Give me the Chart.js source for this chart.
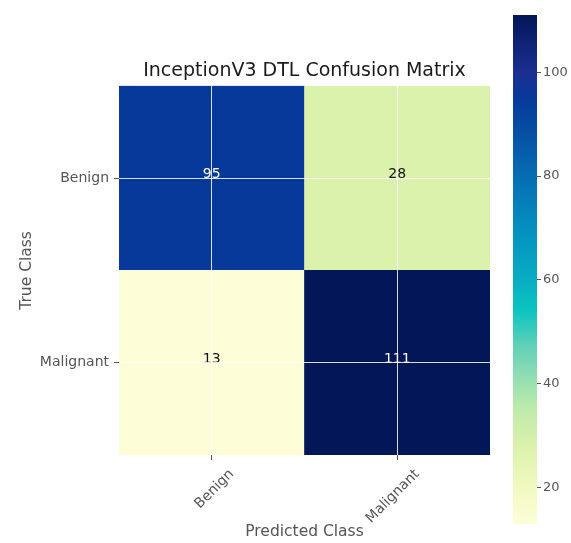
<!DOCTYPE html>
<html>
<head>
<meta charset="utf-8">
<title>InceptionV3 DTL Confusion Matrix</title>
<script src="https://cdn.jsdelivr.net/npm/chart.js@4.4.1/dist/chart.umd.min.js"></script>
<style>
  html, body { margin: 0; padding: 0; background: #ffffff; }
  #wrap { position: relative; width: 571px; height: 543px; overflow: hidden; background: #ffffff; }
  #matrix { position: absolute; left: 0; top: 0; }
  #colorbar { position: absolute; left: 490px; top: 0; }
</style>
</head>
<body>
<div id="wrap">
  <canvas id="matrix" width="500" height="543"></canvas>
  <canvas id="colorbar" width="81" height="543"></canvas>
</div>
<script>
// Class names (rows = true class, columns = predicted class)
const trueClasses = ['Benign', 'Malignant'];
const predClasses = ['Benign', 'Malignant'];

// Counts per true-class row
const benignRow = [95, 28];
const malignantRow = [13, 111];

// Colour bar tick values
const colorbarTicks = [20, 40, 60, 80, 100];

const rows = [benignRow, malignantRow];
const allValues = rows.flat();
const vMin = Math.min(...allValues);
const vMax = Math.max(...allValues);

const FONT = 'DejaVu Sans';
const GREY = '#555555';

// YlGnBu-style colour ramp, stops given in data units
const rampStops = [
  [13,  [253, 254, 216]],
  [20,  [241, 249, 192]],
  [28,  [218, 242, 171]],
  [35,  [192, 234, 172]],
  [40,  [155, 225, 176]],
  [47,  [100, 209, 183]],
  [54,  [12, 197, 191]],
  [60,  [8, 173, 195]],
  [70,  [5, 143, 191]],
  [80,  [6, 109, 179]],
  [90,  [6, 74, 161]],
  [95,  [6, 57, 154]],
  [100, [28, 47, 146]],
  [111, [3, 22, 88]]
];

function rampColor(v) {
  if (v <= rampStops[0][0]) return 'rgb(' + rampStops[0][1].join(',') + ')';
  for (let i = 1; i < rampStops.length; i++) {
    const [v1, c1] = rampStops[i];
    const [v0, c0] = rampStops[i - 1];
    if (v <= v1) {
      const t = (v - v0) / (v1 - v0);
      const c = c0.map((a, k) => Math.round(a + (c1[k] - a) * t));
      return 'rgb(' + c.join(',') + ')';
    }
  }
  return 'rgb(' + rampStops[rampStops.length - 1][1].join(',') + ')';
}

// Writes each cell's count in its centre, white on dark cells
const cellLabels = {
  id: 'cellLabels',
  afterDatasetsDraw(chart) {
    const ctx = chart.ctx;
    const thresh = (vMin + vMax) / 2;
    ctx.save();
    ctx.font = '14px "' + FONT + '"';
    ctx.textAlign = 'center';
    ctx.textBaseline = 'alphabetic';
    chart.data.datasets.forEach((ds, di) => {
      const meta = chart.getDatasetMeta(di);
      meta.data.forEach((el, j) => {
        const v = ds.counts[j];
        const cy = (el.y + el.base) / 2;
        ctx.fillStyle = v > thresh ? '#ffffff' : '#111111';
        ctx.fillText(String(v), el.x, cy);
      });
    });
    ctx.restore();
  }
};

// Stacked unit bars: bottom row first
const datasets = trueClasses.map((name, i) => ({
  label: name,
  data: predClasses.map(() => 1),
  counts: rows[i],
  backgroundColor: rows[i].map(rampColor),
  borderWidth: 0,
  barPercentage: 1,
  categoryPercentage: 1
})).reverse();

new Chart(document.getElementById('matrix'), {
  type: 'bar',
  data: { labels: predClasses, datasets },
  options: {
    responsive: false,
    animation: false,
    events: [],
    layout: { padding: { left: 0, right: 10, top: 0, bottom: 0 } },
    plugins: {
      legend: { display: false },
      tooltip: { enabled: false },
      title: {
        display: true,
        fullSize: false,
        text: 'InceptionV3 DTL Confusion Matrix',
        color: '#1a1a1a',
        font: { family: FONT, size: 19, weight: 'normal' },
        padding: { top: 60, bottom: 3 }
      }
    },
    scales: {
      x: {
        stacked: true,
        afterFit(scale) { scale.height = 88; },
        border: { display: false },
        grid: {
          z: 1,
          offset: false,
          color: 'rgba(255,255,255,0.85)',
          lineWidth: 1,
          drawTicks: true,
          tickLength: 5,
          tickColor: GREY
        },
        ticks: {
          color: GREY,
          font: { family: FONT, size: 14 },
          minRotation: 45,
          maxRotation: 45,
          labelOffset: 20,
          padding: 6
        },
        title: {
          display: true,
          text: 'Predicted Class',
          color: GREY,
          font: { family: FONT, size: 15.5 },
          padding: { top: 0, bottom: 2 }
        }
      },
      y: {
        stacked: true,
        min: 0,
        max: trueClasses.length,
        afterFit(scale) { scale.width = 119; },
        afterBuildTicks(scale) {
          scale.ticks = trueClasses.map((_, i) => ({ value: trueClasses.length - i - 0.5 }));
        },
        border: { display: false },
        grid: {
          z: 1,
          color: 'rgba(255,255,255,0.85)',
          lineWidth: 1,
          drawTicks: true,
          tickLength: 5,
          tickColor: GREY
        },
        ticks: {
          color: GREY,
          font: { family: FONT, size: 14 },
          padding: 5,
          callback(value) {
            return trueClasses[Math.round(trueClasses.length - 0.5 - value)];
          }
        },
        title: {
          display: true,
          text: 'True Class',
          color: GREY,
          font: { family: FONT, size: 15.5 },
          padding: { top: 18, bottom: 0 }
        }
      }
    }
  },
  plugins: [cellLabels]
});

// Colour bar: one floating bar filled with the ramp along the value axis
new Chart(document.getElementById('colorbar'), {
  type: 'bar',
  data: {
    labels: [''],
    datasets: [{
      data: [[vMin, vMax]],
      borderWidth: 0,
      barPercentage: 1,
      categoryPercentage: 1,
      backgroundColor(context) {
        const chart = context.chart;
        const y = chart.scales.y;
        if (!chart.chartArea || !y) return 'rgba(0,0,0,0)';
        const y0 = y.getPixelForValue(vMin);
        const y1 = y.getPixelForValue(vMax);
        const g = chart.ctx.createLinearGradient(0, y0, 0, y1);
        rampStops.forEach(([v, c]) => {
          g.addColorStop((v - vMin) / (vMax - vMin), 'rgb(' + c.join(',') + ')');
        });
        return g;
      }
    }]
  },
  options: {
    responsive: false,
    animation: false,
    events: [],
    layout: { padding: { left: 23, right: 0, top: 15, bottom: 19 } },
    plugins: { legend: { display: false }, tooltip: { enabled: false } },
    scales: {
      x: { display: false },
      y: {
        position: 'right',
        min: vMin,
        max: vMax,
        afterFit(scale) { scale.width = 34; },
        afterBuildTicks(scale) {
          scale.ticks = colorbarTicks.map(v => ({ value: v }));
        },
        border: { display: false },
        grid: {
          display: true,
          drawOnChartArea: false,
          drawTicks: true,
          tickLength: 4,
          tickColor: GREY
        },
        ticks: {
          color: GREY,
          font: { family: FONT, size: 13 },
          padding: 2
        }
      }
    }
  }
});
</script>
</body>
</html>
